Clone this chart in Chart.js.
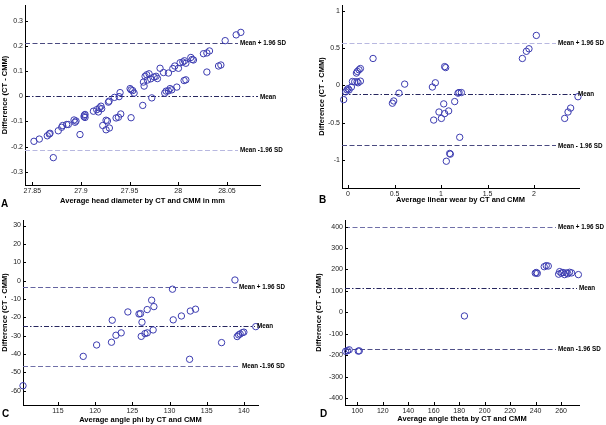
<!DOCTYPE html>
<html>
<head>
<meta charset="utf-8">
<script src="https://cdn.jsdelivr.net/npm/chart.js@4.4.1/dist/chart.umd.min.js"></script>
<style>
  body { margin: 0; background: #fff; width: 606px; height: 425px; position: relative; overflow: hidden;
         font-family: "Liberation Sans", Arial, sans-serif; }
  .panel { position: absolute; }
  .tag { position: absolute; font-weight: bold; font-size: 10px; line-height: 10px; color: #000; }
</style>
</head>
<body>
<div class="panel" style="left:0;top:0"><canvas id="chartA" width="303" height="212"></canvas></div>
<div class="panel" style="left:303px;top:0"><canvas id="chartB" width="303" height="212"></canvas></div>
<div class="panel" style="left:0;top:212px"><canvas id="chartC" width="303" height="213"></canvas></div>
<div class="panel" style="left:303px;top:212px"><canvas id="chartD" width="303" height="213"></canvas></div>
<div class="tag" style="left:1px;top:199px">A</div>
<div class="tag" style="left:319px;top:195px">B</div>
<div class="tag" style="left:2px;top:409px">C</div>
<div class="tag" style="left:320px;top:409px">D</div>

<script>
// ---- panel A: head diameter ----
let aX = [27.8517,27.8572,27.8654,27.8682,27.8675,27.8716,27.8767,27.8802,27.8812,27.8853,
          27.8870,27.8929,27.8949,27.8939,27.8990,27.9032,27.9042,27.9042,27.9035,27.9128,
          27.9162,27.9179,27.9189,27.9206,27.9213,27.9224,27.9258,27.9258,27.9272,27.9292,
          27.9282,27.9289,27.9344,27.9361,27.9385,27.9392,27.9402,27.9409,27.9505,27.9515,
          27.9532,27.9546,27.9515,27.9635,27.9642,27.9649,27.9659,27.9676,27.9683,27.9700,
          27.9717,27.9728,27.9752,27.9772,27.9786,27.9813,27.9848,27.9861,27.9875,27.9899,
          27.9899,27.9916,27.9933,27.9944,27.9964,27.9985,28.0002,28.0019,28.0047,28.0064,
          28.0078,28.0060,28.0078,28.0129,28.0143,28.0156,28.0259,28.0294,28.0294,28.0321,
          28.0414,28.0438,28.0482,28.0595,28.0643];
let aY = [-0.179,-0.170,-0.157,-0.147,-0.150,-0.244,-0.137,-0.123,-0.116,-0.112,
          -0.112,-0.094,-0.098,-0.103,-0.152,-0.081,-0.072,-0.084,-0.075,-0.059,
          -0.053,-0.062,-0.046,-0.039,-0.049,-0.116,-0.133,-0.095,-0.098,-0.126,
          -0.023,-0.019,-0.004,-0.086,-0.083,-0.001,0.015,-0.070,0.031,0.026,
          0.023,0.013,-0.085,-0.036,0.057,0.041,0.080,0.086,0.065,0.090,
          0.070,-0.006,0.077,0.080,0.071,0.112,0.095,0.013,0.021,0.093,
          0.022,0.031,0.026,0.111,0.121,0.037,0.112,0.134,0.137,0.142,
          0.132,0.063,0.066,0.155,0.147,0.145,0.170,0.173,0.097,0.181,
          0.121,0.125,0.222,0.245,0.255];
let aLimits = [0.212, 0.0, -0.212];   // mean + 1.96 SD, mean, mean - 1.96 SD
let aXTicks = [27.85, 27.9, 27.95, 28, 28.05];
let aYTicks = [-0.3, -0.2, -0.1, 0, 0.1, 0.2, 0.3];

// ---- panel B: linear wear ----
let bX = [-0.047,-0.025,-0.011,0.0,0.011,0.036,0.047,0.072,0.090,0.100,
          0.097,0.108,0.118,0.133,0.133,0.269,0.477,0.491,0.548,0.609,
          0.907,0.921,0.939,0.978,1.004,1.029,1.039,1.039,1.050,1.057,
          1.082,1.093,1.100,1.147,1.183,1.194,1.219,1.201,1.875,1.918,
          1.946,2.025,2.330,2.366,2.394,2.473];
let bY = [-0.191,-0.087,-0.061,-0.044,-0.061,-0.022,0.052,0.048,0.165,0.187,
          0.048,0.035,0.209,0.226,0.057,0.361,-0.239,-0.209,-0.104,0.017,
          -0.022,-0.465,0.035,-0.357,-0.443,-0.248,-0.378,0.252,0.239,-1.017,
          -0.343,-0.913,-0.922,-0.217,-0.104,-0.096,-0.096,-0.696,0.361,0.457,
          0.491,0.670,-0.443,-0.357,-0.304,-0.152];
let bLimits = [0.571, -0.113, -0.806];
let bXTicks = [0, 0.5, 1, 1.5, 2];
let bYTicks = [-1, -0.5, 0, 0.5, 1];

// ---- panel C: angle phi ----
let cX = [110.3,118.4,120.2,122.2,122.3,122.8,123.5,124.4,125.9,126.1,
          126.3,126.2,126.7,127.0,127.0,127.6,127.9,127.8,130.4,130.5,
          131.6,132.7,132.8,133.5,137.0,138.8,139.1,139.3,139.5,139.8,
          140.0,141.6];
let cY = [-57.3,-41.3,-35.1,-33.6,-21.6,-29.8,-28.5,-17.1,-18.2,-18.0,
          -22.7,-30.4,-28.9,-28.5,-15.8,-10.7,-14.2,-26.9,-4.7,-21.4,
          -19.3,-42.9,-16.6,-15.6,-33.8,0.3,-30.5,-29.6,-29.1,-28.4,
          -28.1,-25.1];
let cLimits = [-3.4, -24.8, -46.4];
let cXTicks = [115, 120, 125, 130, 135, 140];
let cYTicks = [-60, -50, -40, -30, -20, -10, 0, 10, 20, 30];

// ---- panel D: angle theta ----
let dX = [90.9,92.4,93.7,100.8,101.6,184.1,239.7,240.5,241.3,246.7,
          248.3,249.9,258.0,258.8,260.1,261.4,262.7,264.0,265.3,266.6,
          268.2,273.5];
let dY = [-182,-179,-175,-181,-180,-17,183,186,182,213,
          218,216,178,190,183,186,176,184,180,187,
          184,176];
let dLimits = [398, 113, -172];
let dXTicks = [100, 120, 140, 160, 180, 200, 220, 240, 260];
let dYTicks = [-400, -300, -200, -100, 0, 100, 200, 300, 400];

const yTitle = "Difference (CT - CMM)";
const markerColor = "#3b3bb0";
const tickFont = {size: 7};
const titleFont = {size: 7.5, weight: "bold"};
const dashed = [5, 2.5];
const dashDot = [5, 2, 1.5, 2];

Chart.defaults.font.family = "'Liberation Sans', Arial, sans-serif";

// draws the limit lines, their labels and the inward tick marks
const blandAltman = {
  id: "blandAltman",
  beforeDatasetsDraw(chart, args, opts) {
    const {ctx, chartArea, scales} = chart;
    opts.rows.forEach(row => {
      const y = Math.round(scales.y.getPixelForValue(row.value)) + 0.5;
      ctx.save();
      ctx.strokeStyle = row.color;
      ctx.lineWidth = 1;
      ctx.setLineDash(row.dash);
      ctx.beginPath();
      ctx.moveTo(chartArea.left, y);
      ctx.lineTo(chartArea.right + row.shift - 2, y);
      ctx.stroke();
      ctx.restore();
    });
  },
  afterDraw(chart, args, opts) {
    const {ctx, chartArea, scales} = chart;
    ctx.save();
    ctx.fillStyle = "#000";
    ctx.font = "bold 6.3px 'Liberation Sans', Arial, sans-serif";
    ctx.textBaseline = "middle";
    ctx.textAlign = "left";
    opts.rows.forEach(row => {
      const y = scales.y.getPixelForValue(row.value);
      ctx.fillText(row.label, chartArea.right + row.shift, y + 0.5);
    });
    ctx.strokeStyle = "#000";
    ctx.lineWidth = 1;
    scales.x.ticks.forEach(t => {
      const x = Math.round(scales.x.getPixelForValue(t.value)) + 0.5;
      ctx.beginPath();
      ctx.moveTo(x, chartArea.bottom);
      ctx.lineTo(x, chartArea.bottom - 3);
      ctx.stroke();
    });
    scales.y.ticks.forEach(t => {
      const y = Math.round(scales.y.getPixelForValue(t.value)) + 0.5;
      ctx.beginPath();
      ctx.moveTo(chartArea.left, y);
      ctx.lineTo(chartArea.left + 3, y);
      ctx.stroke();
    });
    ctx.restore();
  }
};

function buildPanel(canvasId, xs, ys, limits, spec) {
  let canvas = document.getElementById(canvasId);
  let W = canvas.width, H = canvas.height;
  let points = [];
  for (let i = 0; i < xs.length; i++) {
    points.push({x: xs[i], y: ys[i]});
  }
  let rows = [
    {value: limits[0], label: spec.labels[0], color: spec.colors[0], dash: dashed, shift: spec.shifts[0]},
    {value: limits[1], label: spec.labels[1], color: spec.colors[1], dash: dashDot, shift: spec.shifts[1]},
    {value: limits[2], label: spec.labels[2], color: spec.colors[2], dash: dashed, shift: spec.shifts[2]}
  ];
  new Chart(canvas, {
    type: "scatter",
    data: {
      datasets: [{
        data: points,
        pointStyle: "circle",
        pointRadius: 3.2,
        borderColor: markerColor,
        backgroundColor: "rgba(0,0,0,0)",
        borderWidth: 1,
        clip: false
      }]
    },
    options: {
      responsive: false,
      animation: false,
      layout: {padding: {left: 0, top: spec.area.t, right: W - spec.area.r, bottom: 0}},
      plugins: {
        legend: {display: false},
        tooltip: {enabled: false},
        blandAltman: {rows: rows}
      },
      scales: {
        x: {
          type: "linear",
          min: spec.xRange[0],
          max: spec.xRange[1],
          afterBuildTicks: s => { s.ticks = spec.xTicks.map(v => ({value: v})); },
          afterFit: s => { s.height = H - spec.area.b; s.paddingLeft = 0; s.paddingRight = 0; },
          grid: {display: false, drawTicks: false},
          border: {display: true, color: "#000", width: 1},
          ticks: {autoSkip: false, maxRotation: 0, padding: 2, color: "#222", font: tickFont,
                  callback: v => String(v)},
          title: {display: true, text: spec.xTitle, color: "#000", font: titleFont,
                  padding: {top: 0, bottom: spec.xTitlePad}}
        },
        y: {
          type: "linear",
          min: spec.yRange[0],
          max: spec.yRange[1],
          afterBuildTicks: s => { s.ticks = spec.yTicks.map(v => ({value: v})); },
          afterFit: s => { s.width = spec.area.l; s.paddingTop = 0; s.paddingBottom = 0; },
          grid: {display: false, drawTicks: false},
          border: {display: true, color: "#000", width: 1},
          ticks: {autoSkip: false, padding: 2, color: "#222", font: tickFont,
                  callback: v => String(v)},
          title: {display: true, text: yTitle, color: "#000", font: titleFont,
                  padding: {top: spec.yTitlePad, bottom: 0}}
        }
      }
    },
    plugins: [blandAltman]
  });
}

buildPanel("chartA", aX, aY, aLimits, {
  area: {l: 25, t: 0, r: 260, b: 185},
  xRange: [27.8425, 28.084], yRange: [-0.353, 0.364],
  xTicks: aXTicks, yTicks: aYTicks,
  xTitle: "Average head diameter by CT and CMM in mm",
  xTitlePad: 6.8, yTitlePad: 0.5,
  labels: ["Mean + 1.96 SD", "Mean", "Mean -1.96 SD"],
  colors: ["#4a4a80", "#26265e", "#b8b8e0"],
  shifts: [-20, 0, -20]
});

buildPanel("chartB", bX, bY, bLimits, {
  area: {l: 39, t: 0, r: 276, b: 188},
  xRange: [-0.065, 2.484], yRange: [-1.376, 1.078],
  xTicks: bXTicks, yTicks: bYTicks,
  xTitle: "Average linear wear by CT and CMM",
  xTitlePad: 7.5, yTitlePad: 14.8,
  labels: ["Mean + 1.96 SD", "Mean", "Mean - 1.96 SD"],
  colors: ["#b8b8e0", "#26265e", "#4a4a80"],
  shifts: [-21, -1, -21]
});

buildPanel("chartC", cX, cY, cLimits, {
  area: {l: 23, t: 8, r: 258, b: 193},
  xRange: [110.3, 141.9], yRange: [-67.8, 33],
  xTicks: cXTicks, yTicks: cYTicks,
  xTitle: "Average angle phi by CT and CMM",
  xTitlePad: 0.5, yTitlePad: 0.5,
  labels: ["Mean + 1.96 SD", "Mean", "Mean -1.96 SD"],
  colors: ["#6464a0", "#26265e", "#7070a8"],
  shifts: [-19, -1, -16]
});

buildPanel("chartD", dX, dY, dLimits, {
  area: {l: 42, t: 8, r: 276, b: 193},
  xRange: [90.4, 274], yRange: [-432.7, 431],
  xTicks: dXTicks, yTicks: dYTicks,
  xTitle: "Average angle theta by CT and CMM",
  xTitlePad: 1.2, yTitlePad: 11.5,
  labels: ["Mean + 1.96 SD", "Mean", "Mean -1.96 SD"],
  colors: ["#7070a8", "#26265e", "#505088"],
  shifts: [-21, 0, -21]
});
</script>
</body>
</html>
